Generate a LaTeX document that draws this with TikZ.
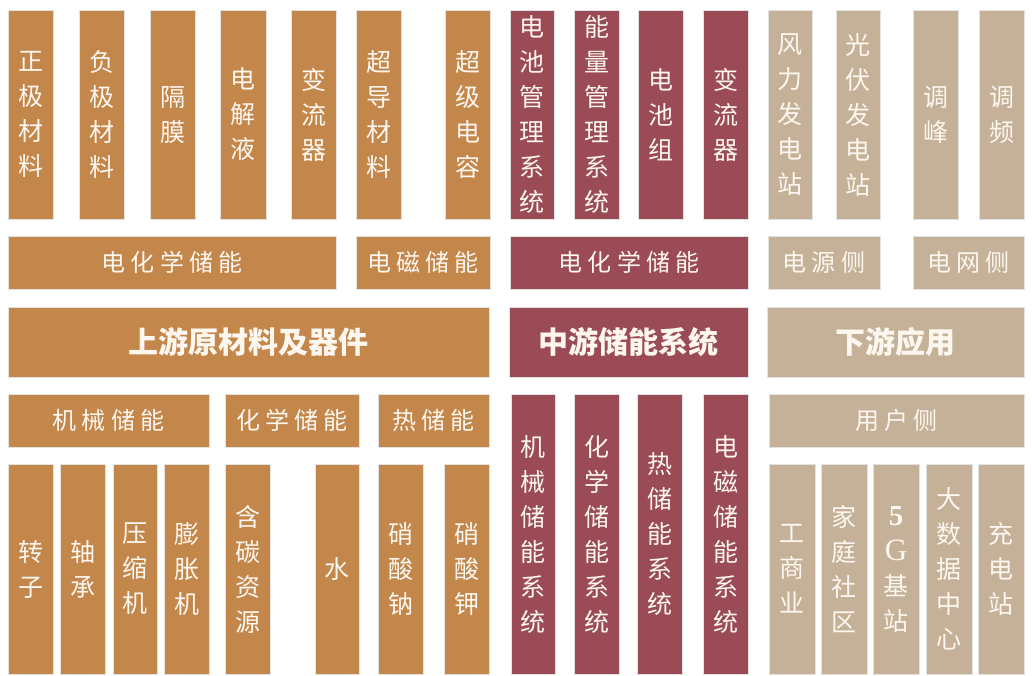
\documentclass[tikz,border=0pt]{standalone}
\usepackage{fontspec}
\newfontfamily\cjk{Noto Sans CJK SC}
\newfontfamily\cjksp[LetterSpace=22]{Noto Sans CJK SC}
\newfontfamily\lat{Liberation Serif}
\definecolor{orangeC}{HTML}{C4874B}
\definecolor{redC}{HTML}{9A4B55}
\definecolor{tanC}{HTML}{C4B198}
\definecolor{edgeC}{HTML}{E2E2E2}
\definecolor{txtC}{HTML}{FDF7F0}
\newcommand\vfont{\cjk\fontsize{25}{35}\selectfont}
\newcommand\hfont{\cjksp\fontsize{24}{28}\selectfont}
\newcommand\tfont{\cjk\bfseries\fontsize{30}{35}\selectfont}
\tikzset{
  blk/.style={draw=edgeC, line width=0.7pt, inner sep=0pt, outer sep=0pt,
    text=txtC, align=center, font=\vfont},
  hblk/.style={blk, font=\hfont},
  tblk/.style={blk, font=\tfont}
}
% name, x1, y1, x2, y2, style, fill, text
\newcommand\blk[8]{\node[#6, fill=#7, minimum width={(#4-#2)*1pt}, minimum height={(#5-#3)*1pt}] (#1) at ({(#2+#4)/2},{(#3+#5)/2}) {#8};}
\begin{document}
\begin{tikzpicture}[x=1pt, y=-1pt]
\useasboundingbox[fill=white] (0,0) rectangle (1033,675);
% top row
\blk{o1}{8}{10}{53}{219}{blk}{orangeC}{正\\极\\材\\料}
\blk{o2}{79}{10}{124}{219}{blk}{orangeC}{负\\极\\材\\料}
\blk{o3}{150}{10}{195}{219}{blk}{orangeC}{隔\\膜}
\blk{o4}{220}{10}{266}{219}{blk}{orangeC}{电\\解\\液}
\blk{o5}{291}{10}{336}{219}{blk}{orangeC}{变\\流\\器}
\blk{o6}{356}{10}{401}{219}{blk}{orangeC}{超\\导\\材\\料}
\blk{o7}{445}{10}{490}{219}{blk}{orangeC}{超\\级\\电\\容}
\blk{r1}{510}{10}{554}{219}{blk}{redC}{电\\池\\管\\理\\系\\统}
\blk{r2}{574}{10}{619}{219}{blk}{redC}{能\\量\\管\\理\\系\\统}
\blk{r3}{638}{10}{683}{219}{blk}{redC}{电\\池\\组}
\blk{r4}{703}{10}{748}{219}{blk}{redC}{变\\流\\器}
\blk{t1}{768}{10}{812}{219}{blk}{tanC}{风\\力\\发\\电\\站}
\blk{t2}{836}{10}{880}{219}{blk}{tanC}{光\\伏\\发\\电\\站}
\blk{t3}{913}{10}{958}{219}{blk}{tanC}{调\\峰}
\blk{t4}{979}{10}{1024}{219}{blk}{tanC}{调\\频}
% second row
\blk{oa}{8}{236}{336}{289}{hblk}{orangeC}{电化学储能}
\blk{ob}{356}{236}{490}{289}{hblk}{orangeC}{电磁储能}
\blk{ra}{510}{236}{748}{289}{hblk}{redC}{电化学储能}
\blk{ta}{768}{236}{880}{289}{hblk}{tanC}{电源侧}
\blk{tb}{913}{236}{1024}{289}{hblk}{tanC}{电网侧}
% titles
\blk{up}{8}{307}{489}{377}{tblk}{orangeC}{上游原材料及器件}
\blk{mid}{509}{307}{748}{377}{tblk}{redC}{中游储能系统}
\blk{down}{767}{307}{1024}{377}{tblk}{tanC}{下游应用}
% fourth row
\blk{oc}{8}{394}{209}{447}{hblk}{orangeC}{机械储能}
\blk{od}{225}{394}{359}{447}{hblk}{orangeC}{化学储能}
\blk{oe}{378}{394}{489}{447}{hblk}{orangeC}{热储能}
\blk{tc}{769}{394}{1024}{447}{hblk}{tanC}{用户侧}
\blk{r5}{511}{394}{555}{674}{blk}{redC}{机\\械\\储\\能\\系\\统}
\blk{r6}{574}{394}{619}{674}{blk}{redC}{化\\学\\储\\能\\系\\统}
\blk{r7}{637}{394}{682}{674}{blk}{redC}{热\\储\\能\\系\\统}
\blk{r8}{703}{394}{748}{674}{blk}{redC}{电\\磁\\储\\能\\系\\统}
% bottom row
\blk{p1}{8}{464}{53}{674}{blk}{orangeC}{转\\子}
\blk{p2}{60}{464}{105}{674}{blk}{orangeC}{轴\\承}
\blk{p3}{113}{464}{157}{674}{blk}{orangeC}{压\\缩\\机}
\blk{p4}{164}{464}{209}{674}{blk}{orangeC}{膨\\胀\\机}
\blk{p5}{225}{464}{270}{674}{blk}{orangeC}{含\\碳\\资\\源}
\blk{p6}{315}{464}{359}{674}{blk}{orangeC}{水}
\blk{p7}{378}{464}{423}{674}{blk}{orangeC}{硝\\酸\\钠}
\blk{p8}{444}{464}{489}{674}{blk}{orangeC}{硝\\酸\\钾}
\blk{u1}{769}{464}{815}{674}{blk}{tanC}{工\\商\\业}
\blk{u2}{821}{464}{867}{674}{blk}{tanC}{家\\庭\\社\\区}
\blk{u3}{873}{464}{919}{674}{blk}{tanC}{{\lat\bfseries\fontsize{29}{35}\selectfont 5}\\{\lat\fontsize{31}{35}\selectfont G}\\基\\站}
\blk{u4}{926}{464}{972}{674}{blk}{tanC}{大\\数\\据\\中\\心}
\blk{u5}{978}{464}{1024}{674}{blk}{tanC}{充\\电\\站}
\end{tikzpicture}
\end{document}
